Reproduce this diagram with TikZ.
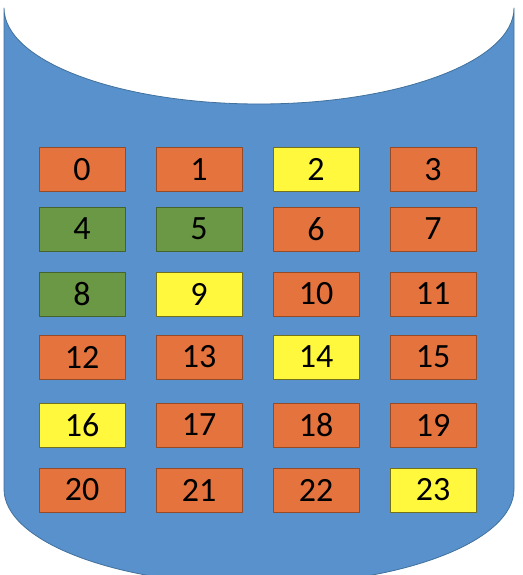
\documentclass[tikz,border=0pt]{standalone}
\usepackage{fontspec}
\setmainfont{Carlito}
\definecolor{tankblue}{HTML}{5891CC}
\definecolor{tankline}{HTML}{41719C}
\definecolor{orng}{HTML}{E4733E}
\definecolor{grn}{HTML}{6A9845}
\definecolor{yel}{HTML}{FFF83C}
\tikzset{
  cell/.style={draw, line width=.8pt, minimum width=86pt, minimum height=44pt,
    inner sep=0pt, font=\fontsize{34}{40}\selectfont},
  oc/.style={cell, fill=orng, draw=orng!65!black},
  gc/.style={cell, fill=grn, draw=grn!65!black},
  yc/.style={cell, fill=yel, draw=yel!45!black},
}
\begin{document}
\begin{tikzpicture}[x=1pt, y=1pt, line join=round]
	\useasboundingbox (0,0) rectangle (522,-575);
	\clip (0,0) rectangle (522,-575);
	% tank body
	\fill[tankblue,draw=tankline,line width=.8pt]
	(514,-8)--(514,-489) arc[start angle=0, end angle=-180, x radius=255pt, y radius=96pt]
	--(4,-8) arc[start angle=180, end angle=360, x radius=255pt, y radius=96pt]
	--cycle;
	% cells
	\path (82,-169.5) node[oc] (b0) {0}   (199,-169.5) node[oc] (b1) {1}
	      (316,-169.5) node[yc] (b2) {2}  (433,-169.5) node[oc] (b3) {3};
	\path (82,-229) node[gc] (b4) {4}     (199,-229) node[gc] (b5) {5}
	      (316,-229) node[oc] (b6) {6}    (433,-229) node[oc] (b7) {7};
	\path (82,-294) node[gc] (b8) {8}     (199,-294) node[yc] (b9) {9}
	      (316,-294) node[oc] (b10) {10}  (433,-294) node[oc] (b11) {11};
	\path (82,-357) node[oc] (b12) {12}   (199,-357) node[oc] (b13) {13}
	      (316,-357) node[yc] (b14) {14}  (433,-357) node[oc] (b15) {15};
	\path (82,-425) node[yc] (b16) {16}   (199,-425) node[oc] (b17) {17}
	      (316,-425) node[oc] (b18) {18}  (433,-425) node[oc] (b19) {19};
	\path (82,-490) node[oc] (b20) {20}   (199,-490) node[oc] (b21) {21}
	      (316,-490) node[oc] (b22) {22}  (433,-490) node[yc] (b23) {23};
\end{tikzpicture}
\end{document}
